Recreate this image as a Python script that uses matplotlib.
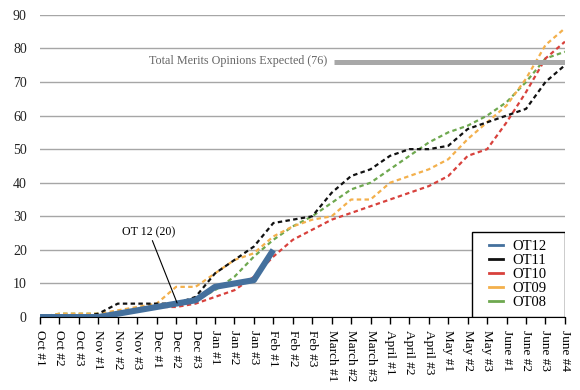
import numpy as np
import matplotlib.pyplot as plt
from matplotlib.lines import Line2D
from matplotlib.patches import Rectangle

###############################
# data
###############################
weeks = ['Oct #1', 'Oct #2', 'Oct #3', 'Nov #1', 'Nov #2', 'Nov #3',
         'Dec #1', 'Dec #2', 'Dec #3', 'Jan #1', 'Jan #2', 'Jan #3',
         'Feb #1', 'Feb #2', 'Feb #3', 'March #1', 'March #2', 'March #3',
         'April #1', 'April #2', 'April #3', 'May #1', 'May #2', 'May #3',
         'June #1', 'June #2', 'June #3', 'June #4']

ot12 = [0, 0, 0, 0, 1, 2, 3, 4, 5, 9, 10, 11, 20]
ot11 = [0, 0, 0, 1, 4, 4, 4, 4, 6, 13, 17, 21, 28, 29, 30, 37, 42, 44,
        48, 50, 50, 51, 56, 58, 60, 62, 70, 75]
ot10 = [0, 0, 0, 0, 1, 2, 3, 3, 4, 6, 8, 12, 18, 23, 26, 29, 31, 33,
        35, 37, 39, 42, 48, 50, 58, 67, 77, 82]
ot09 = [0, 1, 1, 1, 2, 3, 4, 9, 9, 13, 17, 19, 24, 27, 29, 30, 35, 35,
        40, 42, 44, 47, 53, 58, 63, 71, 81, 86]
ot08 = [0, 1, 1, 1, 1, 2, 3, 4, 5, 8, 12, 18, 23, 27, 30, 34, 38, 40,
        44, 48, 52, 55, 57, 60, 64, 70, 77, 79]

expected = 76
yticks = list(range(0, 91, 10))

blue = '#44709d'
black = '#111111'
red = '#d8413c'
orange = '#f3b04c'
green = '#6ea84f'

plt.rcParams['font.family'] = ['Liberation Serif', 'DejaVu Serif']

###############################
# plot
###############################
fig = plt.figure(figsize=(5.8, 3.9), dpi=100)
ax = fig.add_axes([0.069, 0.187, 0.905, 0.775])

x = np.arange(len(weeks))
dash = (0, (2, 1.5))
ax.plot(x, ot08, color=green, lw=1.6, linestyle=dash)
ax.plot(x, ot09, color=orange, lw=1.6, linestyle=dash)
ax.plot(x, ot10, color=red, lw=1.6, linestyle=dash)
ax.plot(x, ot11, color=black, lw=1.6, linestyle=dash)
ax.plot(x[:len(ot12)], ot12, color=blue, lw=4.4, solid_capstyle='butt')

# expected total line
ax.hlines(expected, 15.1, 27, color='#a8a8a8', lw=3.6)
ax.text(14.8, expected + 0.3, 'Total Merits Opinions Expected (76)',
        ha='right', va='center', fontsize=8.7, color='#666666')

ax.annotate('OT 12 (20)', xy=(7.05, 4.2), xytext=(5.6, 23.6),
            ha='center', va='bottom', fontsize=8.6,
            arrowprops=dict(arrowstyle='-', color='k', lw=0.8,
                            shrinkA=0, shrinkB=0))

ax.set_xlim(0, len(weeks) - 1)
ax.set_ylim(0, 90)
ax.set_xticks(x)
ax.set_xticklabels(weeks, rotation=270, fontsize=9.5)
ax.set_yticks(yticks)
ax.set_yticklabels([str(v) for v in yticks], fontsize=10, color='#222222')
ax.tick_params(axis='x', direction='out', length=5, width=1, pad=4)
ax.tick_params(axis='y', length=0, pad=9.5)
ax.yaxis.grid(True, color='#a6a6a6', lw=1)
ax.set_axisbelow(True)
for s in ['top', 'left', 'right']:
    ax.spines[s].set_visible(False)
ax.spines['bottom'].set_color('k')

# legend box drawn by hand, legend entries centred inside it
box = Rectangle((0.823, 0.0), 0.177, 0.281, transform=ax.transAxes,
                facecolor='white', edgecolor='k', lw=1, zorder=5)
ax.add_patch(box)
handles = [Line2D([], [], color=c, lw=2) for c in [blue, black, red, orange, green]]
leg = ax.legend(handles, ['OT12', 'OT11', 'OT10', 'OT09', 'OT08'],
                loc='center', bbox_to_anchor=(0.911, 0.14), fontsize=10.5,
                frameon=False, handlelength=0.9, handletextpad=0.7,
                labelspacing=0.05, borderpad=0)
leg.set_zorder(6)

plt.savefig('out.png')
